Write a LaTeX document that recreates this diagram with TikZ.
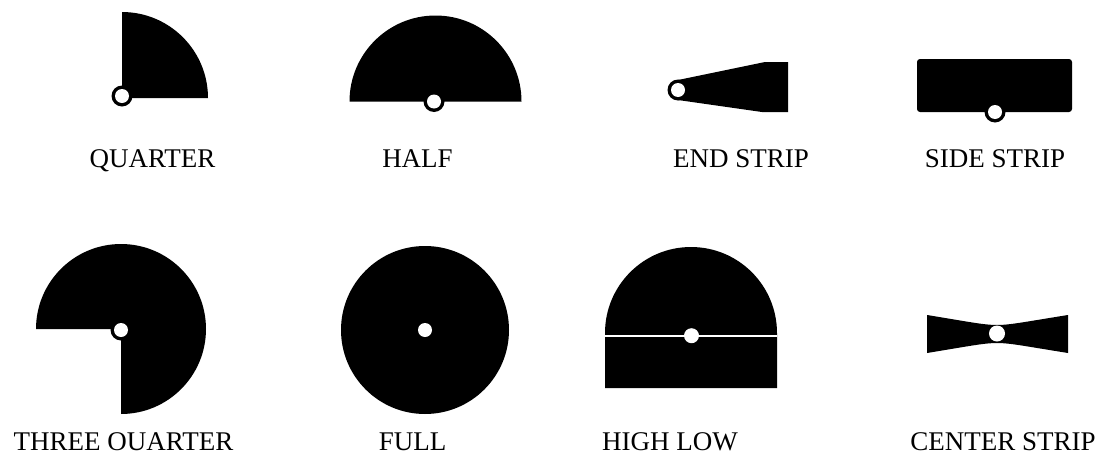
\documentclass[tikz,border=0pt]{standalone}
\usepackage{fontspec}
\setmainfont{Liberation Serif}
\usetikzlibrary{math}

\begin{document}
\begin{tikzpicture}[x=0.5pt,y=-0.5pt,
  cutname/.style={anchor=base,font=\fontsize{13.5}{16}\selectfont},
  ring/.style={fill=black},
  hole/.style={fill=white}]
\tikzmath{
\R=86;
\Rr=10.5;
\Rh=7;
}
\useasboundingbox (0,0) rectangle (1099,461);

%quarter
\fill (122,98) -- (122,98-\R) arc(-90:0:\R) -- cycle;
\fill[ring] (122,96) circle(\Rr);
\fill[hole] (122,96) circle(\Rh);

%half
\fill (435.5-\R,101.5) arc(180:360:\R) -- cycle;
\fill[ring] (434,101.5) circle(\Rr);
\fill[hole] (434,101.5) circle(\Rh);

%end strip
\fill (678,80) -- (765,62) -- (788,62) -- (788,112) -- (762,112) -- (678,100) -- cycle;
\fill[ring] (678,90) circle(\Rr);
\fill[hole] (678,90) circle(\Rh);

%side strip
\fill[rounded corners=1.5pt] (917,59) rectangle (1072,112);
\fill[ring] (995,112) circle(\Rr);
\fill[hole] (995,112) circle(\Rh);

%three quarter
\fill (121,329) -- (121-85,329) arc(-180:90:85) -- cycle;
\fill[ring] (121,330) circle(\Rr);
\fill[hole] (121,330) circle(\Rh);

%full
\fill (425,330) circle(84);
\fill[hole] (425,330) circle(\Rh);

%high low
\fill (691-\R,333) arc(180:360:\R) -- (691+\R,388) -- (691-\R,388) -- cycle;
\draw[white,line width=1pt] (691-\R,335.7) -- (691+\R,335.7);
\fill[hole] (691.5,335.7) circle(7.5);

%center strip
\fill (927,315) .. controls (970,322) and (984,325) .. (997,325) .. controls (1010,325) and (1024,322) .. (1068,315)
  -- (1068,353) .. controls (1024,346) and (1010,343) .. (997,343) .. controls (984,343) and (970,346) .. (927,353) -- cycle;
\fill[hole] (997,333.5) circle(8);

%names
\node[cutname] (quarter) at (152.5,167) {QUARTER};
\node[cutname] (half) at (417.5,167) {HALF};
\node[cutname] (endstrip) at (741,167) {END STRIP};
\node[cutname] (sidestrip) at (995,167) {SIDE STRIP};
\node[cutname] (threequarter) at (123.5,450) {THREE OUARTER};
\node[cutname] (full) at (412.5,450) {FULL};
\node[cutname] (highlow) at (670,450) {HIGH LOW};
\node[cutname] (centerstrip) at (1003,450) {CENTER STRIP};

\end{tikzpicture}
\end{document}
